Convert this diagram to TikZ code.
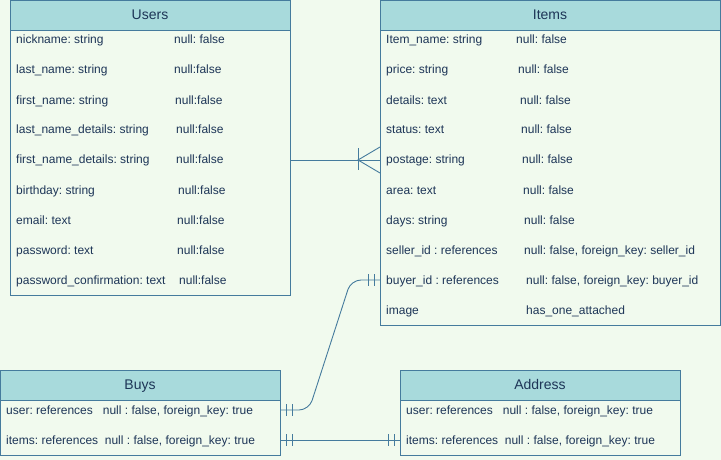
\documentclass[tikz,border=0pt]{standalone}
\usepackage{fontspec}
\setmainfont{Liberation Sans}
\frenchspacing
\definecolor{bgc}{HTML}{F1FAEE}
\definecolor{hdrfill}{HTML}{A8DADC}
\definecolor{strk}{HTML}{457B9D}
\definecolor{txt}{HTML}{1D3557}
\begin{document}
\begin{tikzpicture}[x=1pt,y=-1pt,
  tbl/.style={draw=strk,line width=0.9pt,fill=bgc,inner sep=0pt,outer sep=0pt,anchor=north west},
  hdr/.style={draw=strk,line width=0.9pt,fill=hdrfill,inner sep=0pt,outer sep=0pt,anchor=north west,font=\fontsize{14}{16}\selectfont,text=txt,text height=10pt,text depth=1pt},
  cell/.style={anchor=west,inner sep=0pt,font=\fontsize{12}{14}\selectfont,text=txt,text height=9.6pt,text depth=1.6pt},
  conn/.style={draw=strk,line width=0.9pt}]
\fill[bgc] (0,0) rectangle (721,460);
\useasboundingbox (0,0) rectangle (721,460);

% Users
\node[tbl,minimum width=280pt,minimum height=295pt] (users) at (10,0) {};
\node[hdr,minimum width=280pt,minimum height=30pt] (usersh) at (10,0) {Users};
\node[cell] (u1a) at (16,40) {nickname: string};
\node[cell] (u1b) at (174,40) {null: false};
\node[cell] (u2a) at (16,70) {last\_name: string};
\node[cell] (u2b) at (174,70) {null:false};
\node[cell] (u3a) at (16,100) {first\_name: string};
\node[cell] (u3b) at (175,100) {null:false};
\node[cell] (u4a) at (16,130) {last\_name\_details: string};
\node[cell] (u4b) at (176,130) {null:false};
\node[cell] (u5a) at (16,160) {first\_name\_details: string};
\node[cell] (u5b) at (176,160) {null:false};
\node[cell] (u6a) at (16,190) {birthday: string};
\node[cell] (u6b) at (178,190) {null:false};
\node[cell] (u7a) at (16,220) {email: text};
\node[cell] (u7b) at (177,220) {null:false};
\node[cell] (u8a) at (16,250) {password: text};
\node[cell] (u8b) at (177,250) {null:false};
\node[cell] (u9a) at (16,280) {password\_confirmation: text};
\node[cell] (u9b) at (179,280) {null:false};

% Items
\node[tbl,minimum width=340pt,minimum height=325pt] (items) at (380,0) {};
\node[hdr,minimum width=340pt,minimum height=30pt] (itemsh) at (380,0) {Items};
\node[cell] (i1a) at (386,40) {Item\_name: string};
\node[cell] (i1b) at (516,40) {null: false};
\node[cell] (i2a) at (386,70) {price: string};
\node[cell] (i2b) at (518,70) {null: false};
\node[cell] (i3a) at (386,100) {details: text};
\node[cell] (i3b) at (520,100) {null: false};
\node[cell] (i4a) at (386,130) {status: text};
\node[cell] (i4b) at (521,130) {null: false};
\node[cell] (i5a) at (386,160) {postage: string};
\node[cell] (i5b) at (522,160) {null: false};
\node[cell] (i6a) at (386,190) {area: text};
\node[cell] (i6b) at (523,190) {null: false};
\node[cell] (i7a) at (386,220) {days: string};
\node[cell] (i7b) at (524,220) {null: false};
\node[cell] (i8a) at (386,250) {seller\_id : references};
\node[cell] (i8b) at (524,250) {null: false, foreign\_key: seller\_id};
\node[cell] (i9a) at (386,280) {buyer\_id : references};
\node[cell] (i9b) at (526,280) {null: false, foreign\_key: buyer\_id};
\node[cell] (i10a) at (386,310) {image};
\node[cell] (i10b) at (526,310) {has\_one\_attached};

% Buys
\node[tbl,minimum width=280pt,minimum height=85pt] (buys) at (0,370) {};
\node[hdr,minimum width=280pt,minimum height=30pt] (buysh) at (0,370) {Buys};
\node[cell] (b1) at (6,410) {user: references\ \ \ null : false, foreign\_key: true};
\node[cell] (b2) at (6,440) {items: references\ \ null : false, foreign\_key: true};

% Address
\node[tbl,minimum width=280pt,minimum height=85pt] (addr) at (400,370) {};
\node[hdr,minimum width=280pt,minimum height=30pt] (addrh) at (400,370) {Address};
\node[cell] (a1) at (406,410) {user: references\ \ \ null : false, foreign\_key: true};
\node[cell] (a2) at (406,440) {items: references\ \ null : false, foreign\_key: true};

% connector Users -> Items (one to many)
\coordinate (uc) at (users.east |- u5a);
\coordinate (ic) at (items.west |- i5a);
\draw[conn] (uc) -- (ic);
\draw[conn] ([shift={(-22,-12)}]ic) -- ([shift={(-22,10)}]ic);
\draw[conn] ([shift={(0,-13)}]ic) -- ([shift={(-22,0)}]ic) -- ([shift={(0,13)}]ic);

% connector Buys -> Items buyer_id
\coordinate (bc) at (buys.east |- b1);
\coordinate (ib) at (items.west |- i9a);
\draw[conn,rounded corners=10pt] (bc) -- (309,410) -- (351,280) -- (ib);
\draw[conn] ([shift={(6,-6)}]bc) -- ([shift={(6,6)}]bc);
\draw[conn] ([shift={(12,-6)}]bc) -- ([shift={(12,6)}]bc);
\draw[conn] ([shift={(-6,-6)}]ib) -- ([shift={(-6,6)}]ib);
\draw[conn] ([shift={(-12,-6)}]ib) -- ([shift={(-12,6)}]ib);

% connector Buys items -> Address items
\coordinate (bi) at (buys.east |- b2);
\coordinate (ai) at (addr.west |- a2);
\draw[conn] (bi) -- (ai);
\draw[conn] ([shift={(6,-6)}]bi) -- ([shift={(6,6)}]bi);
\draw[conn] ([shift={(12,-6)}]bi) -- ([shift={(12,6)}]bi);
\draw[conn] ([shift={(-6,-6)}]ai) -- ([shift={(-6,6)}]ai);
\draw[conn] ([shift={(-12,-6)}]ai) -- ([shift={(-12,6)}]ai);
\end{tikzpicture}
\end{document}
